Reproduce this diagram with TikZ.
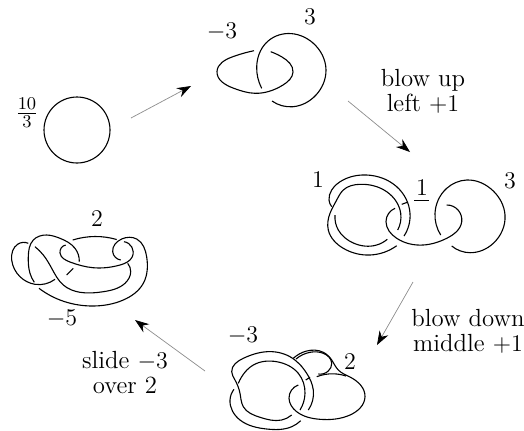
\documentclass[tikz,border=0pt]{standalone}
\usepackage{amsmath}
\usepackage{amssymb}
\usetikzlibrary{arrows.meta,hobby}
\tikzset{
  strand/.style={line width=0.55pt,use Hobby shortcut},
  lab/.style={font=\fontsize{12.4}{12.5}\selectfont,align=center,inner sep=0pt},
  move/.style={draw=black!45,line width=0.35pt,-{Stealth[black,length=7pt,width=5pt]}}
}
\begin{document}
\begin{tikzpicture}[x=0.5pt,y=-0.5pt]
  \useasboundingbox (0,0) rectangle (524,430);
  % unknot
  \draw[line width=0.55pt] (77,130) circle [x radius=33,y radius=33];
  \node[lab] (slope) at (27,113) {$\frac{10}{3}$};
  % two rings
  \draw[strand] (254,50.7) .. (232,57) .. (217,71.5) .. (233,88) .. (255,93.3) .. (283,85) .. (293,72) .. (282,57) .. (270.7,51.7);
  \draw[strand] (261.7,88.3) .. (256.7,66.7) .. (266,43) .. (288,33.5) .. (313,43) .. (326,70) .. (316,95) .. (293,106.7) .. (272,101);
  \node[lab] (ringa) at (222,32) {$-3$};
  \node[lab] (ringb) at (310,17) {$3$};
  % three rings
  \draw[strand] (331.7,206.7) .. (329,200) .. (331.7,190) .. (343,180) .. (366.7,175) .. (396.7,186.7) .. (410,213.3) .. (404,236);
  \draw[strand] (335,215) .. (338.3,230) .. (353.3,243) .. (376.7,245) .. (387.3,239.3);
  \draw[strand] (397.7,230) .. (400.7,213.3) .. (386.7,191.7) .. (360,184.3) .. (343.3,190) .. (336.7,200) .. (330,213.3) .. (328.3,230) .. (343.3,248.3) .. (370,255) .. (396.7,245.7);
  \draw[strand] (395,208.3) .. (386,221.7) .. (396.7,238.3) .. (423.3,245) .. (446.7,238.3) .. (461.7,221.7) .. (446.7,205);
  \draw[line width=0.55pt] (401.7,204.3) -- (407.3,202.3);
  \draw[line width=0.55pt] (414.3,200.7) -- (429,200.7);
  \draw[strand] (440.7,235) .. (435,213.3) .. (446.7,188.3) .. (466.7,180) .. (493.3,191) .. (505,215) .. (493.3,243.3) .. (470,252.7) .. (451.7,246);
  \node[lab] (ringc) at (318,180) {$1$};
  \node[lab] (ringd) at (422,188) {$1$};
  \node[lab] (ringe) at (510,181) {$3$};
  % after blow down
  \draw[strand] (291.7,415) .. (281.7,420) .. (260,417.3) .. (243.3,406.7) .. (240,393.3) .. (235,380) .. (231.7,371.7) .. (243.3,358.3) .. (266.7,351.7) .. (290,356.7) .. (306.7,373.3) .. (313.3,390) .. (308.3,410);
  \draw[strand] (300,410) .. (305,393.3) .. (298.3,373.3) .. (276.7,361.7) .. (253.3,365) .. (241.7,376.7) .. (238.3,383.3);
  \draw[strand] (234,389.3) .. (230,400) .. (240,420) .. (266.7,429) .. (291.7,426.7) .. (300.7,420.7);
  \draw[strand] (298.3,385) .. (289,398.3) .. (296.7,411.7) .. (320,419.3) .. (350,415) .. (365,396.7) .. (350,377) .. (338.3,370) .. (331.7,360) .. (323.3,352.3) .. (306.7,351) .. (293.3,358.3);
  \draw[strand] (296,359) .. (310,352.3) .. (323.3,353.3) .. (331.7,363.3) .. (328.3,371) .. (318.3,374);
  \draw[strand] (316.7,376.7) .. (333.3,373.8) .. (346,376);
  \draw[line width=0.55pt] (305.7,380) -- (310,377.3);
  \node[lab] (ringf) at (243,336) {$-3$};
  \node[lab] (ringg) at (350,362) {$2$};
  % after slide
  \draw[strand] (28.3,243.3) .. (18,244) .. (11.7,260) .. (20,276.7) .. (35,284.3) .. (55,279.3);
  \draw[strand] (79.3,261.7) .. (75,248.3) .. (60,238.3) .. (46.7,235) .. (33.3,240) .. (28.3,256.7) .. (30,273.3) .. (34.3,282.3);
  \draw[strand] (35,246.7) .. (43.3,255) .. (51.7,268.3) .. (63.3,285) .. (80,292.3) .. (103.3,291.7) .. (125,283.3) .. (130.7,271.7) .. (127.7,263.3);
  \draw[strand] (72.7,240) .. (95,236.5) .. (116.7,239.5);
  \draw[strand] (65.7,245) .. (60,253) .. (70,262) .. (93,267.7) .. (120,265) .. (132.3,256.7) .. (124,241.7);
  \draw[strand] (120.7,260) .. (112.7,251.7) .. (121.7,239) .. (136.7,239) .. (146.7,257) .. (143.3,283.3) .. (123.3,300) .. (93.3,306) .. (60,300) .. (39,288.3);
  \draw[line width=0.55pt] (73.3,268.3) -- (66.7,275);
  \node[lab] (ringh) at (97,219) {$2$};
  \node[lab] (ringi) at (62,319) {$-5$};
  % moves
  \coordinate (ma) at (131,118);
  \coordinate (mb) at (191,86);
  \coordinate (mc) at (348,101);
  \coordinate (md) at (410,152);
  \coordinate (me) at (413,282);
  \coordinate (mf) at (377,345);
  \coordinate (mg) at (205,371);
  \coordinate (mh) at (135,320);
  \draw[move] (ma) -- (mb);
  \draw[move] (mc) -- (md);
  \draw[move] (me) -- (mf);
  \draw[move] (mg) -- (mh);
  \node[lab] (blowup) at (423,91) {blow up\\left $+1$};
  \node[lab] (blowdown) at (468,331) {blow down\\middle $+1$};
  \node[lab] (slide) at (125,373) {slide $-3$\\over 2};
\end{tikzpicture}
\end{document}
